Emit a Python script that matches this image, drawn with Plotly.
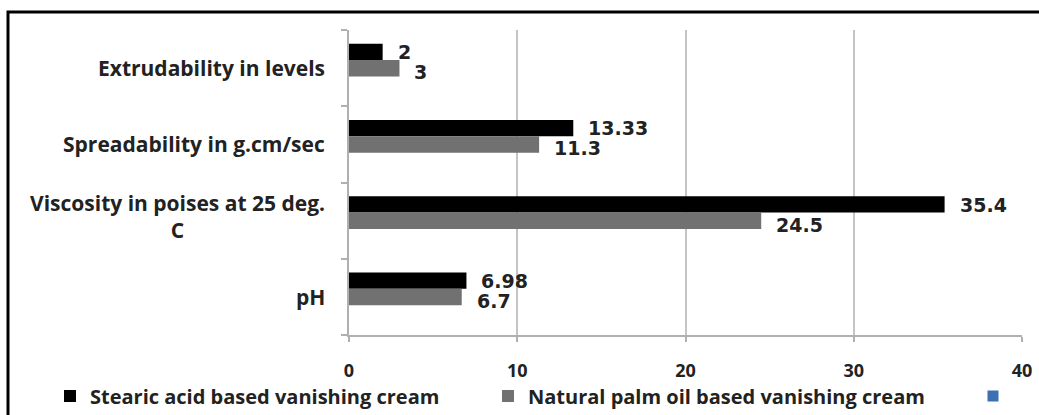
import plotly.graph_objects as go

# Formulation parameters (bottom to top on the chart)
categories = ["pH", "Viscosity in poises at 25 deg.<br>C", "Spreadability in g.cm/sec", "Extrudability in levels"]
stearic = [6.98, 35.4, 13.33, 2]
palm_oil = [6.7, 24.5, 11.3, 3]
stearic_text = ["6.98", "35.4", "13.33", "2"]
palm_text = ["6.7", "24.5", "11.3", "3"]
x_ticks = [0, 10, 20, 30, 40]

series_names = ["Stearic acid based vanishing cream", "Natural palm oil based vanishing cream"]

LABEL_FONT = dict(family="Open Sans", size=21, color="#222222", weight="bold")
VALUE_FONT = dict(family="DejaVu Sans", size=19, color="#222222", weight="bold")
LEGEND_FONT = dict(family="Open Sans", size=20, color="#222222", weight="bold")

# plot area in pixels
L, R, T, B = 349, 17, 30, 80
W, H = 1039, 415
pw, ph = W - L - R, H - T - B

fig = go.Figure()

fig.add_trace(go.Bar(
    y=categories, x=stearic, orientation="h", name=series_names[0],
    marker=dict(color="#000000", line=dict(width=0)),
    width=0.215, offset=0.105, legend="legend",
))
fig.add_trace(go.Bar(
    y=categories, x=palm_oil, orientation="h", name=series_names[1],
    marker=dict(color="#717171", line=dict(width=0)),
    width=0.215, offset=-0.11, legend="legend2",
))
# empty third series shown only as a legend key
fig.add_trace(go.Scatter(
    x=[None], y=[None], mode="markers", name=" ",
    marker=dict(symbol="square", color="#3c6fb4", size=11), legend="legend3",
))

annotations = []
# value labels beside each bar
for cat, v, t in zip(categories, stearic, stearic_text):
    annotations.append(dict(x=v, y=cat, text=t, showarrow=False, xanchor="left",
                            xshift=13, yshift=16, font=VALUE_FONT))
for cat, v, t in zip(categories, palm_oil, palm_text):
    annotations.append(dict(x=v, y=cat, text=t, showarrow=False, xanchor="left",
                            xshift=13, yshift=-4, font=VALUE_FONT))
# category labels, centred line by line
for cat in categories:
    annotations.append(dict(x=0, xref="paper", y=cat, text=cat, showarrow=False,
                            xanchor="right", align="center", xshift=-22,
                            yshift=4 if "<br>" in cat else 0, font=LABEL_FONT))


def legend_at(px):
    # one legend entry per box, placed along the bottom row in page coordinates
    return dict(orientation="h", xref="container", yref="container",
                x=px / W, xanchor="left", y=1 - 396 / H, yanchor="middle",
                font=LEGEND_FONT, bgcolor="rgba(255,255,255,0)", borderwidth=0, itemwidth=30)


fig.update_layout(
    width=W, height=H,
    margin=dict(l=L, r=R, t=T, b=B, pad=0, autoexpand=False),
    paper_bgcolor="rgba(255,255,255,0)", plot_bgcolor="white",
    barmode="overlay",
    showlegend=True,
    legend=legend_at(50),
    legend2=legend_at(488),
    legend3=legend_at(973),
    xaxis=dict(range=[0, 40], tickvals=x_ticks, showgrid=True, gridcolor="#c4c4c4", gridwidth=2,
               zeroline=False, showline=True, linecolor="#b0b0b0", linewidth=2,
               ticks="outside", ticklen=5, tickcolor="#b0b0b0", tickwidth=2,
               ticklabelstandoff=13,
               tickfont=dict(family="Open Sans", size=18, color="#222222", weight="bold"),
               fixedrange=True),
    yaxis=dict(type="category", categoryorder="array", categoryarray=categories,
               showticklabels=False, showline=True, linecolor="#b0b0b0", linewidth=2,
               ticks="outside", ticklen=6, tickcolor="#b0b0b0", tickwidth=2,
               tickson="boundaries", showgrid=False, fixedrange=True),
    annotations=annotations,
    shapes=[dict(type="rect", xref="paper", yref="paper",
                 x0=(8 - L) / pw, x1=(W + 10 - L) / pw,
                 y0=-(H + 10 - (H - B)) / ph, y1=(H - B - 12) / ph,
                 line=dict(color="#000000", width=3), fillcolor="rgba(0,0,0,0)", layer="below")],
)

fig.write_html("out.html")
